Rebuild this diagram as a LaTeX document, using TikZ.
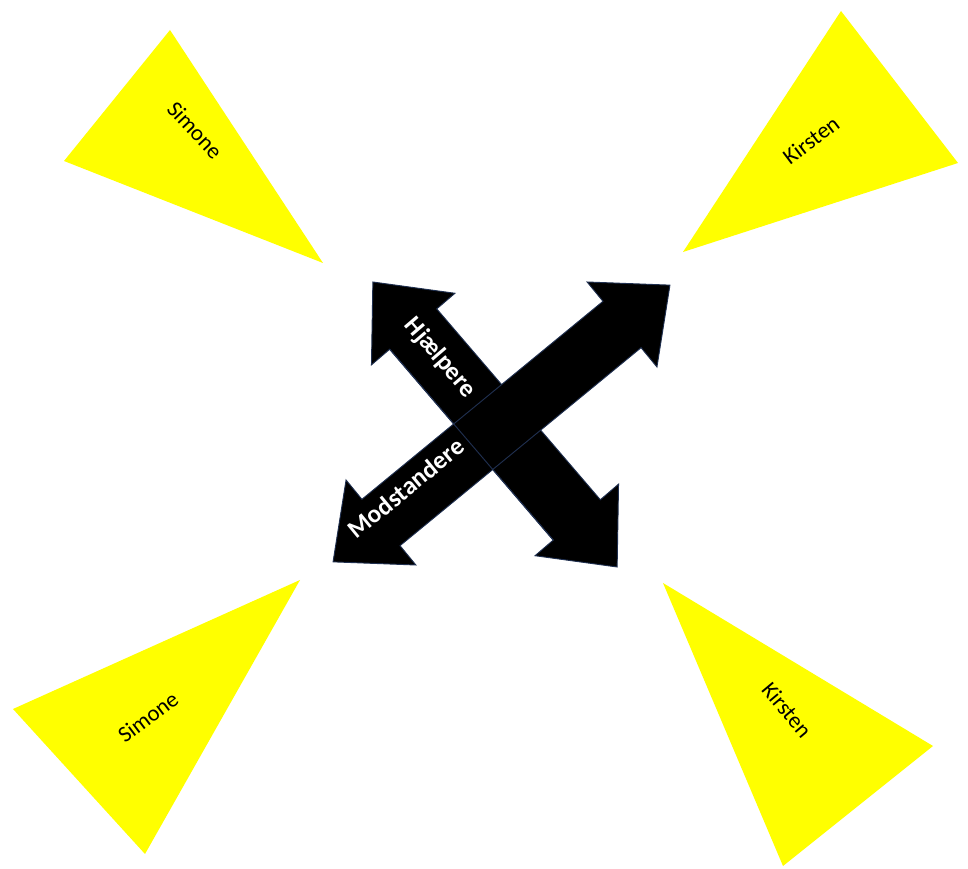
\documentclass[tikz,border=0pt]{standalone}
\usepackage{fontspec}
\setmainfont{Carlito}
\definecolor{tri}{HTML}{FFFF00}
\definecolor{edge}{HTML}{1F2F4F}
\tikzset{
  x=0.75pt, y=0.75pt,
  tribox/.style={fill=tri, draw=none},
  arrowbody/.style={fill=black, draw=edge, line width=0.7pt, line join=miter},
  edgeline/.style={draw=edge, line width=0.7pt},
  namelabel/.style={font=\fontsize{17}{20}\selectfont, text=black, inner sep=0pt},
  armlabel/.style={font=\bfseries\fontsize{19}{22}\selectfont, text=white, inner sep=0pt}
}
\newcommand{\dblarrow}[5]{% center, angle, halflength, shaft halfwidth, head halfwidth ; head length 62
  \begin{scope}[shift={#1}, rotate=#2]
    \path[arrowbody] (#3,0) -- (#3-62,#5) -- (#3-62,#4) -- (-#3+62,#4) -- (-#3+62,#5) -- (-#3,0)
      -- (-#3+62,-#5) -- (-#3+62,-#4) -- (#3-62,-#4) -- (#3-62,-#5) -- cycle;
  \end{scope}}
\begin{document}
\begin{tikzpicture}
\useasboundingbox (0,0) rectangle (968,868);
% triangles
\coordinate (tl1) at (170,838); \coordinate (tl2) at (64,707); \coordinate (tl3) at (323,605);
\coordinate (tr1) at (841,857); \coordinate (tr2) at (958,705); \coordinate (tr3) at (683,616);
\coordinate (bl1) at (300,288); \coordinate (bl2) at (13,159); \coordinate (bl3) at (145,14);
\coordinate (br1) at (663,285); \coordinate (br2) at (933,122); \coordinate (br3) at (783,2);
\path[tribox] (tl1) -- (tl2) -- (tl3) -- cycle;
\path[tribox] (tr1) -- (tr2) -- (tr3) -- cycle;
\path[tribox] (bl1) -- (bl2) -- (bl3) -- cycle;
\path[tribox] (br1) -- (br2) -- (br3) -- cycle;
\node[namelabel, rotate=-47] (simtl) at (195,738) {Simone};
\node[namelabel, rotate=37] (kirtr) at (811,728) {Kirsten};
\node[namelabel, rotate=37] (simbl) at (148,151) {Simone};
\node[namelabel, rotate=-50] (kirbr) at (787,158) {Kirsten};
% arrows
\dblarrow{(495,443.5)}{-49.4}{187.7}{31}{55}
\dblarrow{(501.5,444.5)}{39.4}{218}{30}{55}
\begin{scope}[shift={(495,443.5)}, rotate=-49.4]
  \draw[edgeline] (-125.7,-31) -- (125.7,-31);
\end{scope}
\node[armlabel, rotate=-49.4] (hj) at (440,510) {Hjælpere};
\node[armlabel, rotate=39.4] (mod) at (406,380) {Modstandere};
\end{tikzpicture}
\end{document}
